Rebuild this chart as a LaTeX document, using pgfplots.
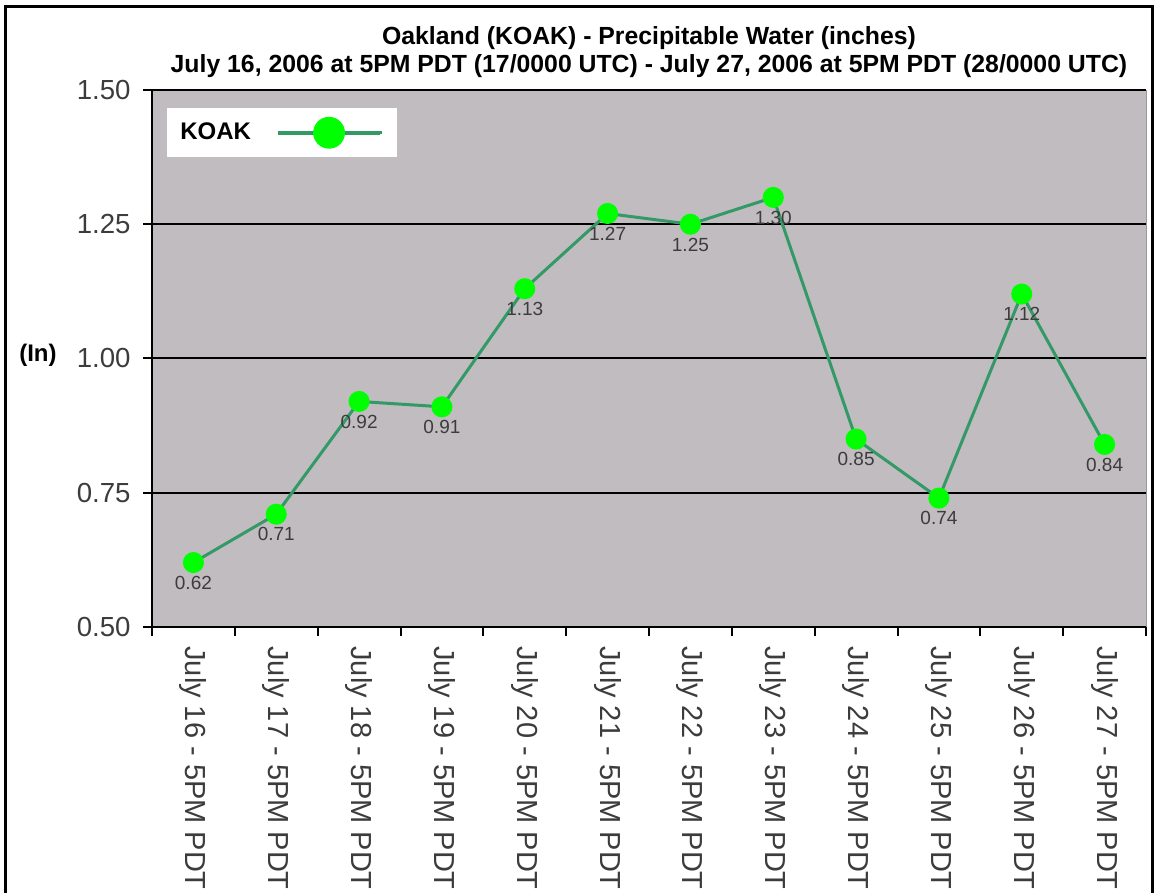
\documentclass[border=0pt]{standalone}
\usepackage{pgfplots}
\pgfplotsset{compat=1.18}
\usepackage{fontspec}
\setmainfont{Liberation Sans}
\definecolor{plotbg}{RGB}{192,188,191}
\definecolor{linegreen}{RGB}{51,153,102}
\definecolor{markgreen}{RGB}{0,255,0}
\definecolor{ticktext}{RGB}{60,60,60}
\begin{document}
\begin{tikzpicture}
\useasboundingbox (0,0) rectangle (578pt,446.5pt);
\draw[line width=1.5pt] (2.75pt,0) -- (2.75pt,443.25pt) -- (576pt,443.25pt) -- (576pt,0);
\begin{axis}[
  at={(76pt,133pt)}, anchor=south west,
  width=497pt, height=268.5pt, scale only axis,
  xmin=-0.5, xmax=11.5, ymin=0.5, ymax=1.5,
  axis x line*=bottom, axis y line*=left,
  axis line style={-, black, line width=1pt},
  axis background/.style={fill=plotbg, draw=gray!80},
  xtick={-0.5,0.5,...,11.5},
  x tick label as interval,
  xticklabels={July 16 - 5PM PDT, July 17 - 5PM PDT, July 18 - 5PM PDT, July 19 - 5PM PDT, July 20 - 5PM PDT, July 21 - 5PM PDT, July 22 - 5PM PDT, July 23 - 5PM PDT, July 24 - 5PM PDT, July 25 - 5PM PDT, July 26 - 5PM PDT, July 27 - 5PM PDT},
  ytick={0.5,0.75,1,1.25,1.5},
  ymajorgrids, grid style={black, line width=1pt},
  tick align=outside, major tick length=4.5pt, tick style={black, line width=1pt},
  /pgf/number format/assume math mode=true,
  /pgf/number format/fixed,
  /pgf/number format/fixed zerofill,
  /pgf/number format/precision=2,
  tick label style={text=ticktext},
  xticklabel style={rotate=-90, anchor=west, inner sep=0pt, font=\fontsize{14.5}{16}\selectfont},
  xticklabel shift=5pt,
  yticklabel style={anchor=east, inner sep=0pt, font=\fontsize{13.8}{16}\selectfont},
  yticklabel shift=6pt,
  title={Oakland (KOAK) - Precipitable Water (inches)\\July 16, 2006 at 5PM PDT (17/0000 UTC) - July 27, 2006 at 5PM PDT (28/0000 UTC)},
  title style={at={(0.5,1)}, anchor=south, inner sep=0pt, yshift=0pt, align=center, font=\bfseries\fontsize{12.4}{14}\selectfont},
  every axis y label/.style={at={(axis description cs:-0.1147,0.5065)}, anchor=center, font=\bfseries\fontsize{12}{14}\selectfont},
  ylabel={(In)},
  legend style={at={(0.0151,0.9665)}, anchor=north west, draw=none, fill=white, inner xsep=6.5pt, inner ysep=4.25pt, column sep=12.5pt, font=\bfseries\fontsize{12}{14}\selectfont, nodes={inner sep=0pt}},
  legend plot pos=right,
  legend image code/.code={
    \path (0pt,0pt) -- (52pt,0pt);
    \draw[line width=2pt, linegreen] (0pt,0pt) -- (51pt,0pt);
    \fill[markgreen] (25.5pt,0pt) circle (7.2pt);
  },
  nodes near coords,
  nodes near coords style={anchor=north, inner sep=0pt, yshift=-6pt, font=\fontsize{9.5}{11}\selectfont, text=ticktext},
]
\addplot[linegreen, line width=1.5pt, mark=*, mark size=4.5pt, mark options={fill=markgreen, draw=markgreen, solid}] coordinates {
  (0,0.62) (1,0.71) (2,0.92) (3,0.91) (4,1.13) (5,1.27)
  (6,1.25) (7,1.30) (8,0.85) (9,0.74) (10,1.12) (11,0.84)
};
\addlegendentry{KOAK}
\end{axis}
\end{tikzpicture}
\end{document}
